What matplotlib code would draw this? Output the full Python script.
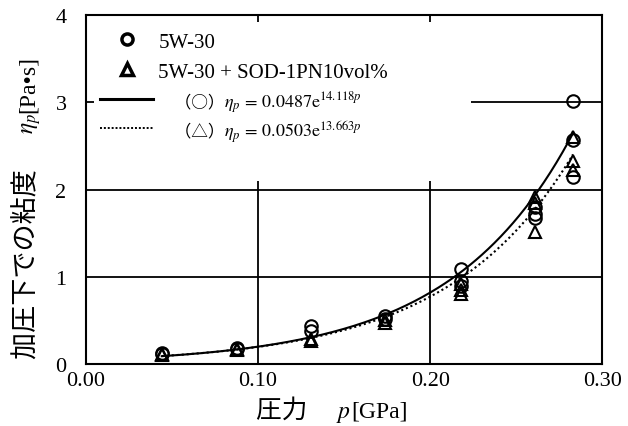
import numpy as np
import matplotlib.pyplot as plt
from matplotlib.lines import Line2D
from matplotlib.patches import Rectangle
from matplotlib.transforms import IdentityTransform

plt.rcParams['font.family'] = ['Liberation Serif', 'Noto Sans CJK JP']
plt.rcParams['mathtext.fontset'] = 'stix'

# measured points (pressure in GPa, viscosity in Pa*s)
p_circ = [0.044, 0.044, 0.088, 0.088, 0.131, 0.131, 0.174, 0.174,
          0.218, 0.218, 0.218, 0.261, 0.261, 0.261, 0.283, 0.283, 0.283]
eta_circ = [0.13, 0.12, 0.18, 0.17, 0.44, 0.38, 0.55, 0.52,
            1.09, 0.95, 0.90, 1.80, 1.72, 1.67, 3.02, 2.57, 2.15]
p_tri = [0.044, 0.044, 0.088, 0.088, 0.131, 0.131, 0.174, 0.174,
         0.218, 0.218, 0.218, 0.261, 0.261, 0.261, 0.283, 0.283, 0.283]
eta_tri = [0.10, 0.11, 0.16, 0.17, 0.29, 0.27, 0.50, 0.47,
           0.92, 0.85, 0.80, 1.92, 1.85, 1.52, 2.60, 2.33, 2.22]

# fitted curves eta = a * exp(b p), coefficients from the legend
fit_a = [0.0487, 0.0503]
fit_b = [14.118, 13.663]
fit_range = [0.044, 0.283]
fit_eq = ['$\\eta_p\\,=\\,0.0487\\mathrm{e}^{14.118p}$',
          '$\\eta_p\\,=\\,0.0503\\mathrm{e}^{13.663p}$']

fig = plt.figure(figsize=(6.28, 4.27), dpi=100)
ax = fig.add_axes([0.137, 0.145, 0.822, 0.817])

for v in [0.1, 0.2]:
    ax.axvline(v, color='black', lw=1.3, zorder=1)
for v in [1, 2, 3]:
    ax.axhline(v, color='black', lw=1.3, zorder=1)
# white block behind the legend
ax.add_patch(Rectangle((0.015, 0.524), 0.73, 0.456, transform=ax.transAxes,
                       facecolor='white', edgecolor='none', zorder=2))

pp = np.linspace(fit_range[0], fit_range[1], 200)
ax.plot(pp, fit_a[0] * np.exp(fit_b[0] * pp), color='black', lw=1.5, zorder=3)
ax.plot(pp, fit_a[1] * np.exp(fit_b[1] * pp), color='black', lw=1.5,
        linestyle=(0, (1, 1.4)), zorder=3)

ax.plot(p_circ, eta_circ, 'o', ms=9, mfc='none', mec='black', mew=1.5, zorder=4)
ax.plot(p_tri, eta_tri, '^', ms=9, mfc='none', mec='black', mew=1.5, zorder=4)

ax.set_xlim(0, 0.30)
ax.set_ylim(0, 4)
ax.set_xticks([0, 0.1, 0.2, 0.3])
ax.set_xticklabels(['0.00', '0.10', '0.20', '0.30'])
ax.set_yticks([0, 1, 2, 3, 4])
ax.tick_params(length=0, labelsize=16)
ax.tick_params(axis='x', pad=5)
ax.tick_params(axis='y', pad=14)
for s in ax.spines.values():
    s.set_linewidth(1.5)
    s.set_zorder(6)

handles = [
    Line2D([], [], marker='o', ls='none', ms=8, mfc='none', mec='black', mew=2.5),
    Line2D([], [], marker='^', ls='none', ms=8, mfc='none', mec='black', mew=2.5),
    Line2D([], [], color='black', lw=2.2),
    Line2D([], [], color='black', lw=1.4, linestyle=(0, (1, 1))),
]
labels = ['5W-30', '5W-30 + SOD-1PN10vol%', '　（○）', '　（△）']
leg = ax.legend(handles, labels, loc='upper left', bbox_to_anchor=(0.027, 0.952),
                fontsize=15, frameon=False, handlelength=2.55, handletextpad=0.25,
                labelspacing=0.5, borderaxespad=0.0, borderpad=0.0)
leg.set_zorder(5)
for t in leg.get_texts()[2:]:
    t.set_fontsize(12)
    t.set_family(['Noto Sans CJK JP'])

fig.canvas.draw()
r = fig.canvas.get_renderer()
inv = ax.transAxes.inverted()
for t, eq in zip(leg.get_texts()[2:], fit_eq):
    bb = t.get_window_extent(r)
    x0, y0 = inv.transform((bb.x1 - 1, (bb.y0 + bb.y1) / 2))
    ax.text(x0, y0, eq, transform=ax.transAxes, fontsize=13, va='center',
            ha='left', zorder=5)


def put_pieces(pieces, x, y, rot):
    # lay text pieces one after another (pixel coords), with extra gap after each
    for s, gap, kw in pieces:
        t = fig.text(x, y, s, transform=IdentityTransform(), rotation=rot,
                     rotation_mode='anchor', ha='left', va='baseline', **kw)
        bb = t.get_window_extent(r)
        if rot == 0:
            x += bb.width + gap
        else:
            y += bb.height + gap


cjk = dict(family=['Noto Sans CJK JP'])
ser = dict(family=['Liberation Serif'])
put_pieces([('圧力　', 3, dict(fontsize=18.5, **cjk)),
            ('$p$', 0, dict(fontsize=17)),
            ('[GPa]', 0, dict(fontsize=17, **ser))], 256, 9, 0)
put_pieces([('加圧下での粘度　', 8, dict(fontsize=19.5, **cjk)),
            ('$\\eta_p$', 0, dict(fontsize=17)),
            ('[Pa•s]', 0, dict(fontsize=17, **ser))], 34, 68, 90)

fig.savefig('out.png', dpi=100)
